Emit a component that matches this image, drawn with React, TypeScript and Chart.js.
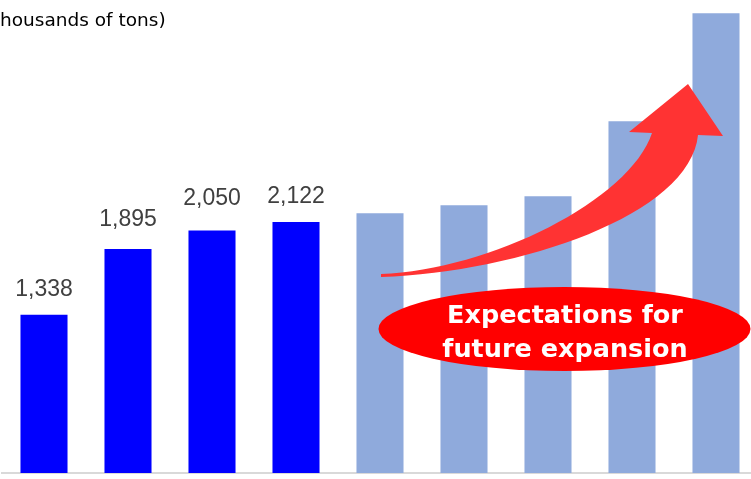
import React, { useEffect, useRef } from "react";
import { Chart, registerables } from "chart.js";

Chart.register(...registerables);

// ---- data ----
const categories = ["1", "2", "3", "4", "5", "6", "7", "8", "9"];
const actualValues = [1338, 1895, 2050, 2122];
const forecastValues = [2197, 2265, 2341, 2975, 3889];
const values = [...actualValues, ...forecastValues];
const actualColor = "#0000FF";
const forecastColor = "#8FAADC";
const titleText = "(thousands of tons)";
const calloutLines = ["Expectations for", "future expansion"];

const CANVAS_W = 760;
const CANVAS_H = 486;
// gap (px) between bar top and its value label baseline
const LABEL_GAPS = [19, 23, 26, 19];

const overlayPlugin = {
  id: "overlay",
  afterDatasetsDraw(chart: any) {
    const ctx = chart.ctx;
    const meta = chart.getDatasetMeta(0);
    ctx.save();
    // value labels for actual bars
    ctx.font = '23px "Liberation Sans", Arial, sans-serif';
    ctx.fillStyle = "#404040";
    ctx.textAlign = "center";
    ctx.textBaseline = "alphabetic";
    for (let i = 0; i < actualValues.length; i++) {
      const el = meta.data[i];
      ctx.fillText(values[i].toLocaleString("en-US"), el.x, el.y - LABEL_GAPS[i]);
    }

    // title (partially cropped on the left)
    ctx.font = '18.5px "DejaVu Sans", sans-serif';
    ctx.fillStyle = "#000000";
    ctx.textAlign = "left";
    const off = ctx.measureText("(t").width;
    ctx.fillText(titleText, -off, 26);

    // curved arrow
    ctx.fillStyle = "#FF3333";
    ctx.beginPath();
    ctx.moveTo(381, 274);
    ctx.bezierCurveTo(490, 270, 630, 200, 652, 133);
    ctx.lineTo(629, 132);
    ctx.lineTo(688, 84);
    ctx.lineTo(723, 136);
    ctx.lineTo(698, 135);
    ctx.bezierCurveTo(690, 215, 520, 272, 381, 277);
    ctx.closePath();
    ctx.fill();

    // ellipse callout
    ctx.fillStyle = "#FF0000";
    ctx.beginPath();
    ctx.ellipse(564.5, 329, 186, 42, 0, 0, Math.PI * 2);
    ctx.fill();
    ctx.fillStyle = "#FFFFFF";
    ctx.font = 'bold 25.5px "DejaVu Sans", sans-serif';
    ctx.textAlign = "center";
    ctx.fillText(calloutLines[0], 565, 323);
    ctx.fillText(calloutLines[1], 565, 357);
    ctx.restore();
  },
};

export default function App() {
  const ref = useRef<HTMLCanvasElement | null>(null);
  useEffect(() => {
    document.body.style.margin = "0";
    const canvas = ref.current!;
    const chart = new Chart(canvas, {
      type: "bar",
      data: {
        labels: categories,
        datasets: [
          {
            data: values,
            backgroundColor: values.map((_, i) =>
              i < actualValues.length ? actualColor : forecastColor
            ),
            borderWidth: 0,
            barPercentage: 0.56,
            categoryPercentage: 1.0,
          },
        ],
      },
      options: {
        responsive: false,
        animation: false,
        devicePixelRatio: 1,
        layout: { padding: { left: 2, right: 2, top: 0, bottom: 5 } },
        plugins: {
          legend: { display: false },
          tooltip: { enabled: false },
          title: { display: false },
        },
        scales: {
          x: {
            grid: { display: false },
            ticks: { display: false },
            border: { display: true, color: "#D9D9D9", width: 2 },
          },
          y: {
            display: false,
            min: 0,
            max: 4000,
          },
        },
      },
      plugins: [overlayPlugin],
    });
    return () => chart.destroy();
  }, []);
  return (
    <div
      style={{
        position: "fixed",
        left: 0,
        top: 0,
        width: 751,
        height: 479,
        overflow: "hidden",
        background: "#fff",
      }}
    >
      <canvas
        ref={ref}
        width={CANVAS_W}
        height={CANVAS_H}
        style={{ display: "block", width: CANVAS_W, height: CANVAS_H }}
      />
    </div>
  );
}
